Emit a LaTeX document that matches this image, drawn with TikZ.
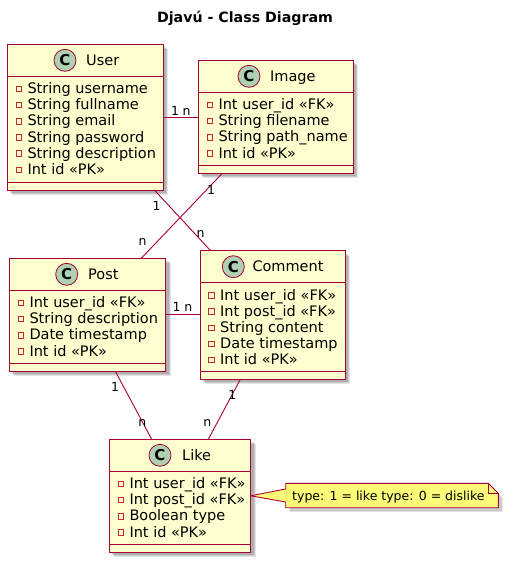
\documentclass[tikz,border=0pt]{standalone}
\usepackage{fontspec}
\setmainfont{DejaVu Sans}
\usetikzlibrary{shadows}
\definecolor{umlred}{HTML}{A80036}
\definecolor{umlbg}{HTML}{FEFECE}
\definecolor{circgreen}{HTML}{ADD1B2}
\definecolor{notebg}{HTML}{FBFB77}
\definecolor{sqred}{HTML}{C82930}
\newcommand\umlclass[9]{%
  \node[cls, minimum width=#4pt, minimum height=#5pt, anchor=north west] (#1) at (#2,#3) {};
  \begin{scope}[shift={(#1.north west)}]
    \draw[sepline] (0,32) -- (#4,32);
    \draw[sepline] (0,#5-8) -- (#4,#5-8);
    \node[circ] (#1-c) at (#6,16) {C};
    \node[cname] (#1-n) at (#7,21) {#8};
    \foreach \t [count=\i] in {#9} {
      \pgfmathsetmacro\yb{49.3+(\i-1)*16.15}
      \draw[sqbox] (8.6,\yb-7.4) rectangle ++(5.5,5.5);
      \node[attr] (#1-\i) at (20,\yb) {\t};
    }
  \end{scope}
}
\begin{document}
\begin{tikzpicture}[x=1pt,y=-1pt,
  cls/.style={draw=umlred, fill=umlbg, line width=1pt, inner sep=0pt, outer sep=0pt,
    drop shadow={shadow xshift=3pt,shadow yshift=-3pt,opacity=.12,fill=black},
    drop shadow={shadow xshift=4pt,shadow yshift=-4pt,opacity=.12,fill=black},
    drop shadow={shadow xshift=5pt,shadow yshift=-5pt,opacity=.10,fill=black}},
  sepline/.style={draw=umlred, line width=1pt},
  circ/.style={circle, draw=umlred, fill=circgreen, line width=0.8pt, minimum size=22pt,
    inner sep=0pt, font=\bfseries\fontsize{15}{15}\selectfont},
  cname/.style={anchor=base west, inner sep=0pt, font=\fontsize{14.5}{16}\selectfont},
  attr/.style={anchor=base west, inner sep=0pt, font=\fontsize{14.5}{16}\selectfont},
  sqbox/.style={draw=sqred, line width=0.8pt},
  assoc/.style={draw=umlred, line width=0.9pt},
  mult/.style={inner sep=0pt, font=\fontsize{12.5}{14}\selectfont},
  notebox/.style={draw=umlred, fill=notebg, line width=0.9pt},
]
\useasboundingbox[fill=white] (0,0) rectangle (504,565);

\node[font=\bfseries\fontsize{14.2}{16}\selectfont, inner sep=0pt] (title) at (245,18.3) {Djavú - Class Diagram};

\umlclass{user}{7.3}{44.3}{156}{145.7}{57.7}{78.7}{User}%
  {String username,String fullname,String email,String password,String description,Int id «PK»}
\umlclass{image}{198.3}{60.3}{155}{113}{50.7}{71.7}{Image}%
  {Int user\_id «FK»,String filename,String path\_name,Int id «PK»}
\umlclass{post}{9.3}{258.3}{156.4}{112.7}{57.4}{78.7}{Post}%
  {Int user\_id «FK»,String description,Date timestamp,Int id «PK»}
\umlclass{comment}{200}{250.7}{145}{128.3}{33.3}{52.3}{Comment}%
  {Int user\_id «FK»,Int post\_id «FK»,String content,Date timestamp,Int id «PK»}
\umlclass{like}{109.3}{439.3}{141.4}{113}{50.7}{72.7}{Like}%
  {Int user\_id «FK»,Int post\_id «FK»,Boolean type,Int id «PK»}

% note
\node[minimum width=212.6pt, minimum height=24.4pt, inner sep=0pt, outer sep=0pt, anchor=north west] (note) at (285.7,483.3) {};
\draw[notebox, drop shadow={shadow xshift=4pt,shadow yshift=-4pt,opacity=.2,fill=black}]
  (note.north west) -- ([xshift=-10pt]note.north east) -- ([yshift=-10pt]note.north east)
  -- (note.south east) -- (note.south west) -- cycle;
\draw[notebox, fill=none] ([xshift=-10pt]note.north east) |- ([yshift=-10pt]note.north east);
\fill[notebg] (like.east) -- ([xshift=0.6pt,yshift=6.5pt]note.west) -- ([xshift=0.6pt,yshift=-6.5pt]note.west) -- cycle;
\draw[assoc] (like.east) -- ([yshift=6.5pt]note.west);
\draw[assoc] (like.east) -- ([yshift=-6.5pt]note.west);
\node[anchor=base west, inner sep=0pt, font=\fontsize{12.5}{14}\selectfont] (notetext) at (292,500.3) {type: 1 = like type: 0 = dislike};

% connectors
\draw[assoc] (user.east) -- (image.west |- user.east);
\draw[assoc] ([xshift=69pt]user.south) -- ([xshift=-61.9pt]comment.north);
\draw[assoc] ([xshift=-53.5pt]image.south) -- ([xshift=53.8pt]post.north);
\draw[assoc] (post.east) -- (comment.west |- post.east);
\draw[assoc] ([xshift=27.7pt]post.south) -- ([xshift=-28.3pt]like.north);
\draw[assoc] ([xshift=-32pt]comment.south) -- ([xshift=28.3pt]like.north);

% multiplicities
\node[mult] (m1) at (175,110.5) {1};
\node[mult] (m2) at (186.7,111.5) {n};
\node[mult] (m3) at (156.7,205.7) {1};
\node[mult] (m4) at (200.7,234.3) {n};
\node[mult] (m5) at (211,190) {1};
\node[mult] (m6) at (142.7,242.3) {n};
\node[mult] (m7) at (176.7,307.3) {1};
\node[mult] (m8) at (188.3,308.3) {n};
\node[mult] (m9) at (115,387.3) {1};
\node[mult] (m10) at (142.3,423.3) {n};
\node[mult] (m11) at (232.3,395) {1};
\node[mult] (m12) at (207.3,423.3) {n};
\end{tikzpicture}
\end{document}
